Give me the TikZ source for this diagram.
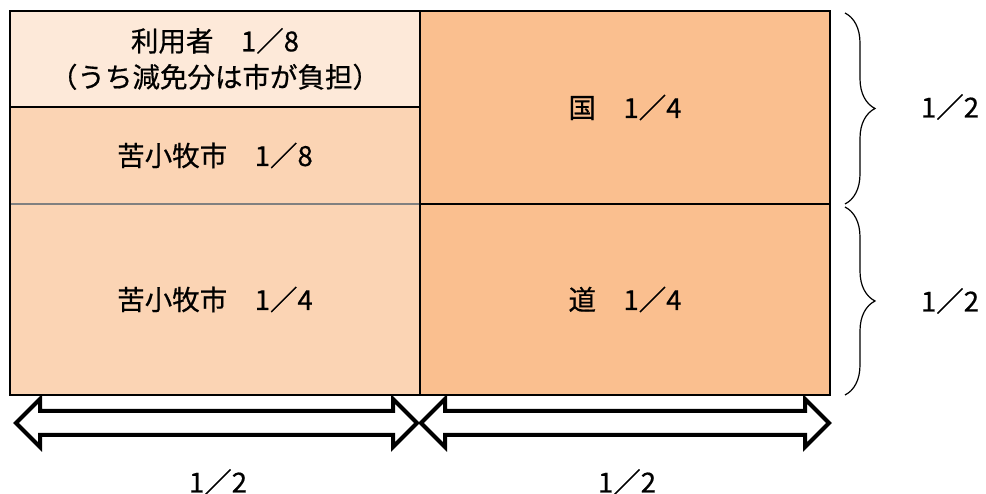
\documentclass[tikz,border=0pt]{standalone}
\usepackage{fontspec}
\setmainfont{Noto Sans CJK JP}[FakeBold=0.6]
\usetikzlibrary{shapes.arrows,decorations.pathreplacing}
\usetikzlibrary{positioning}
\definecolor{paleorange}{HTML}{FDE9D9}
\definecolor{lightorange}{HTML}{FBD4B4}
\definecolor{midorange}{HTML}{FABF8F}
\tikzstyle{cell} = [rectangle, minimum width=410pt, align=center, inner sep=0pt, outer sep=0pt]
\tikzstyle{span} = [double arrow, draw=black, line width=4pt, fill=white, inner sep=0pt, inner ysep=10pt, double arrow head extend=12pt, double arrow tip angle=90]
\tikzstyle{share} = [decorate, decoration={brace, amplitude=30pt}, line width=1.2pt]

\begin{document}
\begin{tikzpicture}[x=1pt, y=-1pt, node distance=0pt, font=\fontsize{27.5}{36}\selectfont]
\useasboundingbox (0,0) rectangle (986,494);
% left column
\node (user) at (215,59) [cell, fill=paleorange, minimum height=96pt] {利用者　1／8\\（うち減免分は市が負担）};
\node (cityA) [cell, below=of user, fill=lightorange, minimum height=97pt] {苦小牧市　1／8};
\node (cityB) [cell, below=of cityA, fill=lightorange, minimum height=191pt] {苦小牧市　1／4};
% right column
\node (kuni) at (user.north east) [cell, anchor=north west, fill=midorange, minimum height=193pt] {国　1／4};
\node (dou) [cell, below=of kuni, fill=midorange, minimum height=191pt] {道　1／4};

\draw[line width=1.5pt] (user.south west) -- (user.south east);
\draw[gray, line width=1.5pt] (cityA.south west) -- (cityA.south east);
\draw[line width=1.5pt] (kuni.south west) -- (kuni.south east);
\draw[line width=1.5pt] (user.north east) -- (cityB.south east);
\draw[line width=2pt] (user.north west) rectangle (dou.south east);

% shares
\draw[share] ([xshift=15pt,yshift=-2pt]kuni.north east) -- ([xshift=15pt]kuni.south east);
\draw[share] ([xshift=15pt,yshift=-3pt]dou.north east) -- ([xshift=15pt]dou.south east);
\node (kunihalf) at (950,107) {1／2};
\node (douhalf) at (950,301) {1／2};

\node (leftspan) at (216.5,423) [span, minimum height=401pt] {};
\node (rightspan) at (625,423) [span, minimum height=408pt] {};
\node (lefthalf) at (218,482) {1／2};
\node (righthalf) at (627,482) {1／2};
\end{tikzpicture}
\end{document}
